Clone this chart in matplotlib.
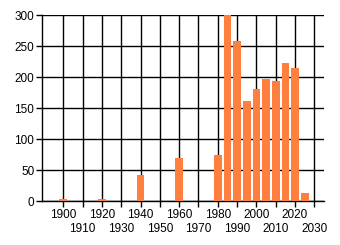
import matplotlib
matplotlib.use("Agg")
import matplotlib.pyplot as plt

years = [1900, 1920, 1940, 1960, 1980, 1985, 1990, 1995, 2000, 2005, 2010, 2015, 2020, 2025]
counts = [3, 3, 42, 70, 75, 300, 258, 162, 181, 197, 194, 223, 215, 13]
upper_decades = [1900, 1920, 1940, 1960, 1980, 2000, 2020]
lower_decades = [1910, 1930, 1950, 1970, 1990, 2010, 2030]
y_ticks = [0, 50, 100, 150, 200, 250, 300]

plt.rcParams["font.family"] = ["Liberation Sans", "DejaVu Sans"]

fig = plt.figure(figsize=(3.4, 2.45), dpi=100)
ax = fig.add_axes([42 / 340, 44 / 245, 282 / 340, 186 / 245])

ax.bar(years, counts, width=4, color="#ff7f3f", zorder=3)

ax.set_xlim(1889, 2035)
ax.set_ylim(0, 300)
# labels alternate between two rows, like the original
ax.set_xticks(upper_decades)
ax.set_xticks(lower_decades, minor=True)
ax.set_xticklabels([str(d) for d in upper_decades])
ax.set_xticklabels([str(d) for d in lower_decades], minor=True)
ax.set_yticks(y_ticks)
ax.tick_params(axis="both", which="both", labelsize=8.5, length=4, width=1, color="black")
ax.tick_params(axis="y", pad=1.5)
ax.tick_params(axis="x", which="major", pad=2)
ax.tick_params(axis="x", which="minor", pad=12)
ax.grid(True, which="both", color="black", linewidth=1, zorder=0)
ax.set_axisbelow(True)

for side in ("top", "right"):
    ax.spines[side].set_visible(False)
for side in ("left", "bottom"):
    ax.spines[side].set_linewidth(1)

fig.savefig("out.png", dpi=100)
